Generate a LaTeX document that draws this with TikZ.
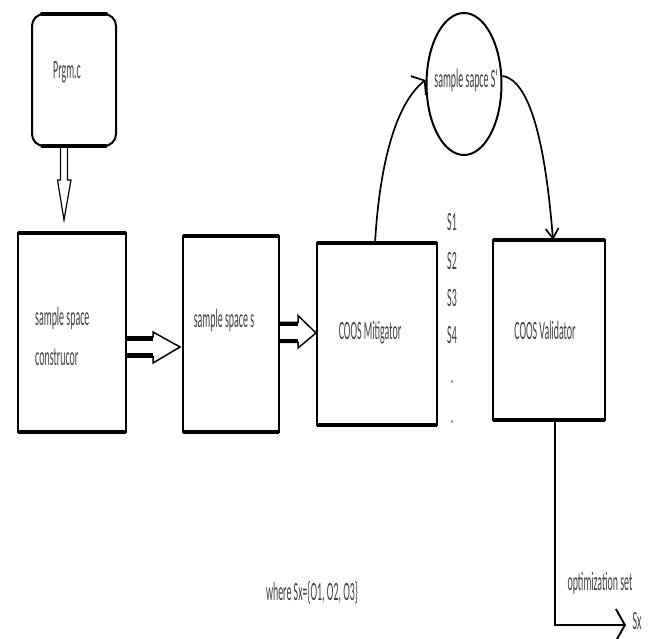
\documentclass[tikz,border=0pt]{standalone}
\usepackage{fontspec}
\newfontfamily\lab[FakeStretch=0.62]{Carlito}
\newcommand\tallt[1]{\scalebox{1}[1.65]{#1}}
\usetikzlibrary{shapes.geometric,arrows.meta,calc}
\begin{document}
\begin{tikzpicture}[x=1pt,y=-1pt,
  box/.style={draw,line width=2pt,rectangle,inner sep=0pt,outer sep=0pt},
  edge/.style={line width=4.2pt},
  txt/.style={font=\lab\fontsize{16}{19}\selectfont,text=black!75,inner sep=0pt},
  blk/.style={line width=1.5pt,line join=miter},
  conn/.style={line width=1.7pt},
  barb/.style={-{Straight Barb[length=8pt,width=24pt,line width=1.7pt]}}]
\useasboundingbox (0,0) rectangle (657,639);
% boxes
\node[box,rounded corners=12pt,minimum width=84pt,minimum height=132pt] (prg) at (74,80) {};
\draw[edge,line cap=round] ([xshift=10]prg.north west) -- ([xshift=-10]prg.north east);
\draw[line width=3.2pt,line cap=round] ([xshift=10]prg.south west) -- ([xshift=-10]prg.south east);
\node[box,minimum width=108pt,minimum height=199pt] (b1) at (72,332.5) {};
\node[box,minimum width=96pt,minimum height=196pt] (b2) at (231,334) {};
\node[box,minimum width=120pt,minimum height=182pt] (b3) at (377,334) {};
\node[box,minimum width=112pt,minimum height=180pt] (b4) at (549,330) {};
\foreach \b in {b1,b2,b3,b4}{
  \draw[edge] (\b.north west) -- (\b.north east);
  \draw[edge] (\b.south west) -- (\b.south east);
}
\node[draw,ellipse,line width=2pt,minimum width=75pt,minimum height=142pt,inner sep=0pt] (ell) at (464,84) {};
% texts
\node[txt] (tprg) at (67,72) {\tallt{Prgm.c}};
\node[txt,anchor=west] (t1a) at (35,318) {\tallt{sample space}};
\node[txt,anchor=west] (t1b) at (35,357) {\tallt{construcor}};
\node[txt] (t2) at (224,320) {\tallt{sample space s}};
\node[txt] (t3) at (370,333) {\tallt{COOS Mitigator}};
\node[txt] (t4) at (545,330) {\tallt{COOS Validator}};
\node[txt] (tell) at (466,80) {\tallt{sample sapce S'}};
\node[txt] (s1) at (452,222) {\tallt{S1}};
\node[txt] (s2) at (452,261) {\tallt{S2}};
\node[txt] (s3) at (452,298) {\tallt{S3}};
\node[txt] (s4) at (452,335) {\tallt{S4}};
\node[txt] (d1) at (452,382) {\tallt{.}};
\node[txt] (d2) at (452,422) {\tallt{.}};
\node[txt] (topt) at (600,583) {\tallt{optimization set}};
\node[txt] (tsx) at (637,621) {\tallt{Sx}};
\node[txt] (twh) at (312,593) {\tallt{where Sx=\{O1, O2, O3\}}};
% down hollow arrow
\coordinate (da) at ([xshift=-10]prg.south);
\draw[line width=1.2pt,line join=miter] ($(da)+(-3.5,0)$) -- ++(0,34) -- ++(-3,0) -- ($(da)+(0,74)$) -- ($(da)+(7,34)$) -- ++(-3.5,0) -- ($(da)+(3.5,0)$);
% block arrow b1 -> b2
\coordinate (a1) at ([yshift=-14.5]b1.east);
\draw[blk] ($(a1)+(0,-10)$) -- ++(27,0) -- ++(0,-5) -- ($(a1)+(54,0)$) -- ($(a1)+(27,16)$) -- ++(0,-6) -- ++(-27,0);
\draw[edge] ($(a1)+(0,-8.5)$) -- ++(27,0);
\draw[edge] ($(a1)+(0,8.5)$) -- ++(27,0);
% block arrow b2 -> b3
\coordinate (a2) at ([yshift=1]b2.east);
\draw[blk] ($(a2)+(0,-10.5)$) -- ++(19,0) -- ++(0,-7) -- ($(a2)+(37,0)$) -- ($(a2)+(19,15)$) -- ++(0,-5.5) -- ++(-19,0);
\draw[edge] ($(a2)+(0,-9)$) -- ++(19,0);
\draw[edge] ($(a2)+(0,8)$) -- ++(19,0);
% curved connectors
\draw[conn,barb] ([xshift=-2]b3.north) .. controls +(5,-85) and +(-28,22) .. ([yshift=4]ell.west);
\draw[conn,-{Straight Barb[length=10pt,width=13pt,line width=1.7pt]}] ([yshift=8]ell.east) .. controls +(32,5) and +(-6,-75) .. ([xshift=4]b4.north);
% output
\coordinate (out) at (626,625);
\draw[line width=1.9pt,-{Straight Barb[length=9pt,width=32pt,line width=1.9pt]}] ([xshift=6]b4.south) |- (out);
\end{tikzpicture}
\end{document}
